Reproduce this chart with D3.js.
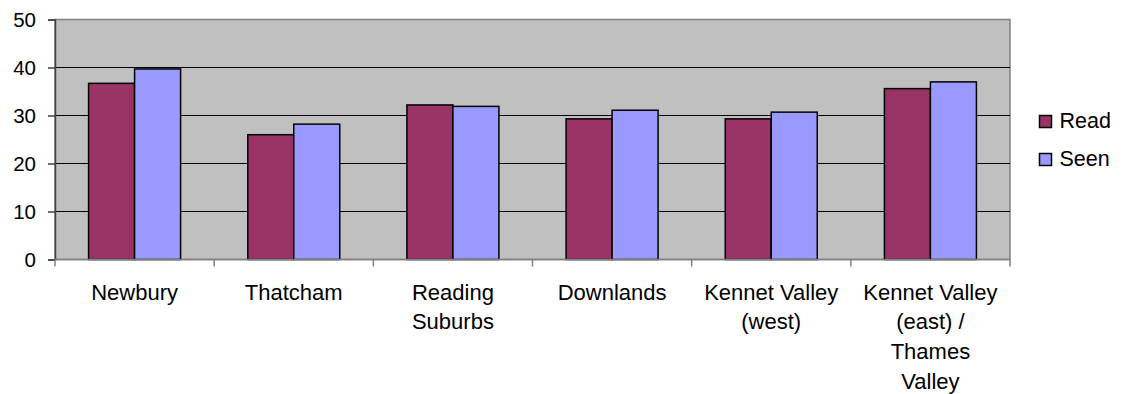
<!DOCTYPE html>
<html>
<head>
<meta charset="utf-8">
<script src="https://cdn.jsdelivr.net/npm/d3@7"></script>
<style>
  html, body { margin: 0; padding: 0; background: #ffffff; }
  svg { display: block; font-family: "Liberation Sans", Arial, sans-serif; }
</style>
</head>
<body>
<svg id="chart" width="1122" height="394"></svg>
<script>
// Areas and their two survey measures
const categories = [
  ["Newbury"],
  ["Thatcham"],
  ["Reading", "Suburbs"],
  ["Downlands"],
  ["Kennet Valley", "(west)"],
  ["Kennet Valley", "(east) /", "Thames", "Valley"]
];
const seriesNames = ["Read", "Seen"];
const readValues = [36.7, 26.0, 32.2, 29.3, 29.3, 35.6];
const seenValues = [39.7, 28.2, 31.9, 31.1, 30.7, 37.0];
const yTicks = [0, 10, 20, 30, 40, 50];
const colors = ["#993366", "#9999ff"];

const svg = d3.select("#chart");
const plot = { left: 55, right: 1010, top: 19.5, bottom: 259.5 };

const keys = categories.map(c => c.join(" "));
const x0 = d3.scaleBand().domain(keys).range([plot.left, plot.right]).paddingInner(0).paddingOuter(0);
const groupFrac = 0.578;
const x1 = d3.scaleBand().domain(seriesNames)
  .range([x0.bandwidth() * (1 - groupFrac) / 2, x0.bandwidth() * (1 + groupFrac) / 2]);
const y = d3.scaleLinear().domain([0, 50]).range([plot.bottom, plot.top]);

// Plot area background
svg.append("rect")
  .attr("x", plot.left).attr("y", plot.top)
  .attr("width", plot.right - plot.left).attr("height", plot.bottom - plot.top)
  .attr("fill", "#c0c0c0").attr("stroke", "#808080").attr("stroke-width", 1.5);

// Horizontal gridlines
svg.append("g").selectAll("line")
  .data(yTicks.filter(t => t > 0 && t < 50))
  .join("line")
  .attr("x1", plot.left).attr("x2", plot.right)
  .attr("y1", d => y(d)).attr("y2", d => y(d))
  .attr("stroke", "#000").attr("stroke-width", 1);

// Bars
const rows = keys.map((k, i) => ({ key: k, vals: [readValues[i], seenValues[i]] }));
const groups = svg.append("g").selectAll("g")
  .data(rows).join("g")
  .attr("transform", d => `translate(${x0(d.key)},0)`);
groups.selectAll("rect")
  .data(d => d.vals.map((v, j) => ({ name: seriesNames[j], v, j })))
  .join("rect")
  .attr("x", d => x1(d.name))
  .attr("width", x1.bandwidth())
  .attr("y", d => y(d.v))
  .attr("height", d => y(0) - y(d.v))
  .attr("fill", d => colors[d.j])
  .attr("stroke", "#000").attr("stroke-width", 1.5);

// Y axis
const yAxis = svg.append("g")
  .attr("transform", `translate(${plot.left},0)`)
  .call(d3.axisLeft(y).tickValues(yTicks).tickSize(7).tickPadding(12).tickFormat(d3.format("d")));
yAxis.select(".domain").attr("stroke", "#404040").attr("stroke-width", 1.5);
yAxis.selectAll(".tick line").attr("stroke", "#404040").attr("stroke-width", 1.5);
yAxis.selectAll("text").attr("font-size", 20.5).attr("fill", "#000")
  .attr("font-family", "'Liberation Sans', Arial, sans-serif");

// X axis with ticks at category boundaries
const boundaries = keys.map(k => x0(k)).concat([plot.right]);
svg.append("line")
  .attr("x1", plot.left).attr("x2", plot.right)
  .attr("y1", plot.bottom).attr("y2", plot.bottom)
  .attr("stroke", "#808080").attr("stroke-width", 1.5);
svg.append("g").selectAll("line")
  .data(boundaries).join("line")
  .attr("x1", d => d).attr("x2", d => d)
  .attr("y1", plot.bottom).attr("y2", plot.bottom + 7)
  .attr("stroke", "#808080").attr("stroke-width", 1.5);

// Category labels
const labels = svg.append("g").selectAll("text")
  .data(categories).join("text")
  .attr("x", (d, i) => x0(keys[i]) + x0.bandwidth() / 2)
  .attr("y", 299.5)
  .attr("text-anchor", "middle")
  .attr("font-size", 22)
  .attr("fill", "#000");
labels.selectAll("tspan")
  .data(d => d).join("tspan")
  .attr("x", function () { return this.parentNode.getAttribute("x"); })
  .attr("dy", (d, i) => i === 0 ? 0 : 29.8)
  .text(d => d);

// Legend
const legend = svg.append("g").selectAll("g")
  .data(seriesNames).join("g")
  .attr("transform", (d, i) => `translate(1039.5,${115.5 + i * 38})`);
legend.append("rect")
  .attr("width", 12).attr("height", 12)
  .attr("fill", (d, i) => colors[i])
  .attr("stroke", "#000").attr("stroke-width", 1.5);
legend.append("text")
  .attr("x", 20).attr("y", 12)
  .attr("font-size", 21.5).attr("fill", "#000")
  .text(d => d);
</script>
</body>
</html>
